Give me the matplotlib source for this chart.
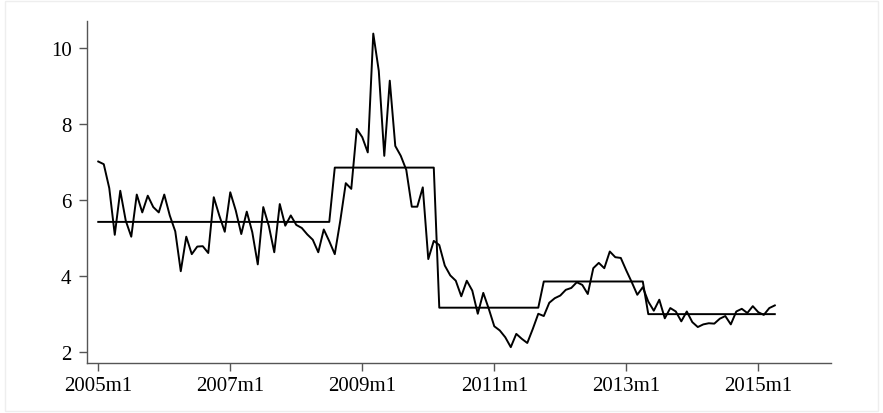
import numpy as np
import matplotlib
matplotlib.use("Agg")
import matplotlib.pyplot as plt
from matplotlib.patches import Rectangle

# monthly series, 2005m1 .. 2015m4
rate = [7.02, 6.95, 6.32, 5.09, 6.25, 5.46, 5.04, 6.15, 5.68, 6.12, 5.82, 5.68,
        6.15, 5.60, 5.18, 4.13, 5.04, 4.58, 4.78, 4.79, 4.61, 6.08, 5.60, 5.17,
        6.21, 5.73, 5.11, 5.70, 5.16, 4.31, 5.82, 5.33, 4.63, 5.90, 5.33, 5.60,
        5.35, 5.27, 5.10, 4.96, 4.63, 5.23, 4.92, 4.58, 5.46, 6.45, 6.30, 7.88,
        7.66, 7.26, 10.39, 9.41, 7.17, 9.15, 7.43, 7.17, 6.80, 5.83, 5.83, 6.34,
        4.45, 4.93, 4.82, 4.28, 4.02, 3.88, 3.47, 3.88, 3.62, 3.01, 3.56, 3.14,
        2.68, 2.57, 2.39, 2.13, 2.48, 2.35, 2.24, 2.61, 3.01, 2.95, 3.30, 3.42,
        3.49, 3.64, 3.69, 3.84, 3.77, 3.53, 4.21, 4.35, 4.21, 4.65, 4.50, 4.48,
        4.15, 3.84, 3.51, 3.71, 3.33, 3.09, 3.38, 2.89, 3.16, 3.07, 2.81, 3.07,
        2.79, 2.66, 2.73, 2.76, 2.75, 2.88, 2.95, 2.73, 3.07, 3.14, 3.03, 3.21,
        3.05, 2.98, 3.16, 3.23]

# regime means and how many months each regime lasts
regime_means = [5.43, 6.86, 3.17, 3.86, 3.00]
regime_months = [43, 19, 19, 19, 24]

tick_labels = ["2005m1", "2007m1", "2009m1", "2011m1", "2013m1", "2015m1"]
y_ticks = [2, 4, 6, 8, 10]

months = np.arange(len(rate))
regime_line = np.repeat(regime_means, regime_months)
tick_pos = [(int(t[:4]) - 2005) * 12 for t in tick_labels]

plt.rcParams["font.family"] = ["Liberation Serif", "DejaVu Serif"]

fig = plt.figure(figsize=(8.83, 4.14), dpi=100)
ax = fig.add_axes([0.0982, 0.1196, 0.8428, 0.828])

ax.plot(months, rate, color="black", lw=1.4)
ax.plot(months, regime_line, color="black", lw=1.4)

ax.set_xlim(-2.1, 133.2)
ax.set_ylim(1.7, 10.73)
ax.set_xticks(tick_pos)
ax.set_xticklabels(tick_labels)
ax.set_yticks(y_ticks)

for side in ["top", "right"]:
    ax.spines[side].set_visible(False)
for side in ["left", "bottom"]:
    ax.spines[side].set_color("#555555")
    ax.spines[side].set_linewidth(1.0)
ax.tick_params(axis="both", direction="out", length=6, width=1.0,
               color="#555555", labelsize=15, labelcolor="black")
ax.tick_params(axis="x", pad=3)
ax.tick_params(axis="y", pad=5)

# faint outer frame
fig.patches.append(Rectangle((0.006, 0.006), 0.988, 0.988, transform=fig.transFigure,
                             fill=False, edgecolor="#eeeeee", lw=1.0))

fig.savefig("out.png", dpi=100)
